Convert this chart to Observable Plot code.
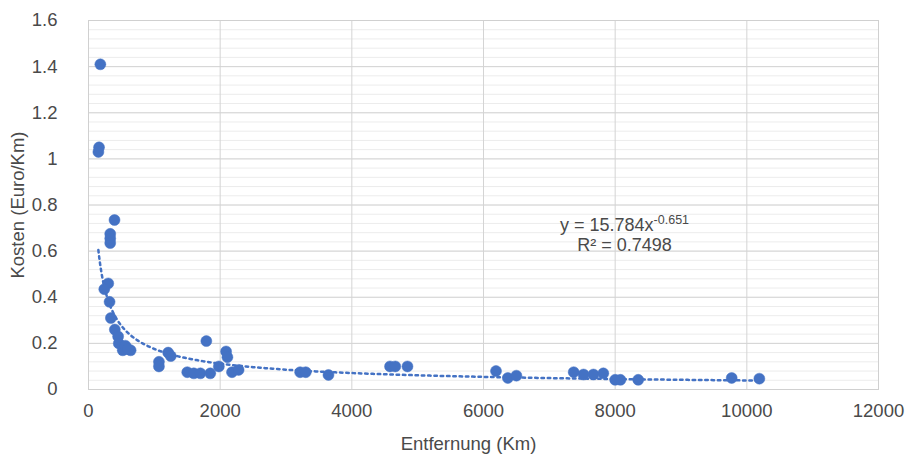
<!DOCTYPE html>
<html>
<head>
<meta charset="utf-8">
<script src="https://cdn.jsdelivr.net/npm/d3@7"></script>
<script src="https://cdn.jsdelivr.net/npm/@observablehq/plot@0.6"></script>
<style>
  html, body { margin: 0; padding: 0; background: #fff; }
  #chart { width: 910px; height: 463px; }
</style>
</head>
<body>
<div id="chart"></div>
<script>
// ---- data ----
const distanceKm = [180, 160, 150, 395, 330, 330, 330, 300, 240, 320, 340, 400, 450, 460, 520, 560, 640, 600,
  1070, 1070, 1210, 1250, 1790, 1500, 1600, 1700, 1850, 1980, 2090, 2110, 2180, 2280,
  3215, 3300, 3645, 4580, 4660, 4845, 6190, 6370, 6500, 7370, 7520, 7670, 7820, 8000, 8080, 8350, 9770, 10190];
const costPerKm = [1.41, 1.05, 1.03, 0.735, 0.675, 0.655, 0.635, 0.46, 0.435, 0.38, 0.31, 0.26, 0.23, 0.2, 0.17, 0.19, 0.17, 0.175,
  0.12, 0.10, 0.16, 0.145, 0.21, 0.075, 0.07, 0.07, 0.07, 0.10, 0.165, 0.14, 0.075, 0.085,
  0.075, 0.075, 0.063, 0.10, 0.10, 0.10, 0.08, 0.05, 0.06, 0.075, 0.065, 0.065, 0.07, 0.042, 0.042, 0.042, 0.05, 0.047];
const xTicks = [0, 2000, 4000, 6000, 8000, 10000, 12000];
const yTicks = [0, 0.2, 0.4, 0.6, 0.8, 1, 1.2, 1.4, 1.6];
const yMinorTicks = d3.range(0, 41).map(i => +(i * 0.04).toFixed(2));
const trendA = 15.784;   // power trendline y = A * x^B (from the chart's equation)
const trendB = -0.651;
const trendR2 = "0.7498";
const xTitle = "Entfernung (Km)";
const yTitle = "Kosten (Euro/Km)";

// ---- build ----
const points = distanceKm.map((d, i) => ({x: d, y: costPerKm[i]}));
const xMin = d3.min(distanceKm), xMax = d3.max(distanceKm);
const trend = d3.range(0, 301).map(i => {
  const x = xMin * Math.pow(xMax / xMin, i / 300);
  return {x, y: trendA * Math.pow(x, trendB)};
});

const FONT = "'Liberation Sans', Arial, sans-serif";
const BLUE = "#4472C4";
const TEXT = "#4a4a4a";

const plot = Plot.plot({
  width: 910,
  height: 463,
  marginLeft: 88,
  marginRight: 32,
  marginTop: 20,
  marginBottom: 74,
  style: {fontFamily: FONT, fontSize: "18.5px", color: TEXT, background: "#fff", overflow: "visible"},
  x: {domain: [0, 12000], ticks: xTicks, tickSize: 0, tickPadding: 14, tickFormat: d => String(d), label: null},
  y: {domain: [0, 1.6], ticks: yTicks, tickSize: 0, tickPadding: 31, tickFormat: d => String(d), label: null},
  marks: [
    Plot.ruleY(yMinorTicks, {stroke: "#ececec", strokeWidth: 1}),
    Plot.ruleY(yTicks, {stroke: "#d4d4d4", strokeWidth: 1}),
    Plot.ruleX(xTicks, {stroke: "#d4d4d4", strokeWidth: 1}),
    Plot.frame({stroke: "#d0d0d0"}),
    Plot.line(trend, {x: "x", y: "y", stroke: BLUE, strokeWidth: 2.5, strokeDasharray: "2.5,3.8", curve: "linear"}),
    Plot.dot(points, {x: "x", y: "y", r: 5.5, fill: BLUE, stroke: BLUE, strokeWidth: 0.5, symbol: "circle"}),
    Plot.text([xTitle], {frameAnchor: "bottom", dx: -15, dy: 55, lineAnchor: "middle", textAnchor: "middle", text: d => d, fill: TEXT, fontSize: 18.5}),
    Plot.text([yTitle], {frameAnchor: "left", dx: -70, rotate: -90, textAnchor: "middle", lineAnchor: "middle", text: d => d, fill: TEXT, fontSize: 18.5})
  ]
});

document.getElementById("chart").appendChild(plot);

// equation label with superscript (real text)
const sx = plot.scale("x"), sy = plot.scale("y");
const svg = d3.select(plot);
const t1 = svg.append("text")
  .attr("x", sx.apply(8150)).attr("y", sy.apply(0.685))
  .attr("text-anchor", "middle")
  .attr("fill", TEXT)
  .style("font-family", FONT).style("font-size", "18px");
t1.append("tspan").text("y = " + trendA + "x");
t1.append("tspan").attr("dy", -7).style("font-size", "12.5px").text(String(trendB));
svg.append("text")
  .attr("x", sx.apply(8150)).attr("y", sy.apply(0.6))
  .attr("text-anchor", "middle")
  .attr("fill", TEXT)
  .style("font-family", FONT).style("font-size", "18px")
  .text("R² = " + trendR2);
</script>
</body>
</html>
